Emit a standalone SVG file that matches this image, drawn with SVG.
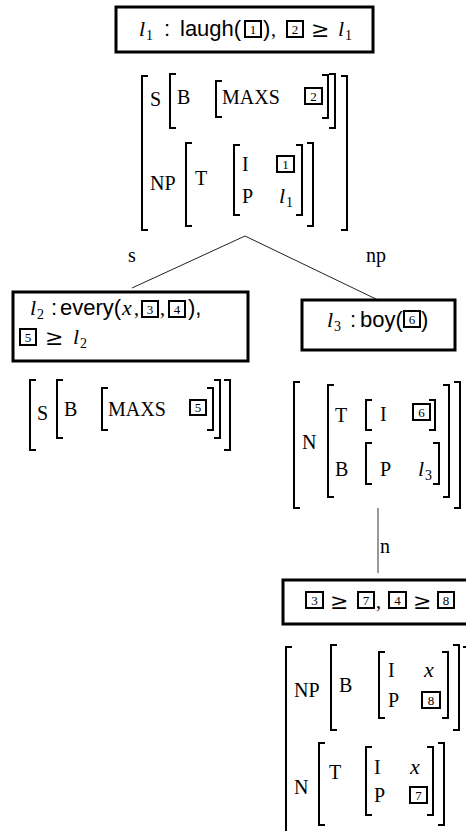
<svg xmlns="http://www.w3.org/2000/svg" width="466" height="831" viewBox="0 0 466 831">
<style>
.bg{fill:#fff}
.box{fill:#fff;stroke:#000;stroke-width:3}
.nb{fill:none;stroke:#000;stroke-width:2}
.br{fill:none;stroke:#000;stroke-width:2}
.sans{font-family:"Liberation Sans",Arial,sans-serif;font-size:22px;fill:#000}
.rm{font-family:"Liberation Serif","Times New Roman",serif;font-size:20px;fill:#000}
.it{font-family:"Liberation Serif","Times New Roman",serif;font-style:italic;font-size:22px;fill:#000}
.sub{font-family:"Liberation Serif","Times New Roman",serif;font-size:14px;fill:#000}
.num{font-family:"Liberation Serif","Times New Roman",serif;font-size:13px;text-anchor:middle;fill:#000}
.ge{font-family:"DejaVu Serif","Liberation Serif",serif;font-size:22px;fill:#000}
.edge{stroke:#222;stroke-width:1;fill:none}
.edge2{stroke:#777;stroke-width:1.5;fill:none}
</style>
<rect class="bg" x="0" y="0" width="466" height="831"/>

<g id="connectors">
  <line class="edge" x1="245" y1="236" x2="132" y2="288"/>
  <line class="edge" x1="245" y1="236" x2="378" y2="300"/>
  <line class="edge2" x1="378" y1="508" x2="378" y2="573"/>
  <text class="rm" x="128" y="262">s</text>
  <text class="rm" x="366" y="262">np</text>
  <text class="rm" x="380" y="553">n</text>
</g>

<g id="node-top">
  <rect class="box" x="116" y="7" width="257" height="45"/>
  <text class="it" x="139" y="36">l</text><text class="sub" x="146" y="40">1</text>
  <text class="sans" x="164" y="36">:</text>
  <text class="sans" x="180" y="36">laugh(</text>
  <rect class="nb" x="245" y="21" width="16" height="16"/><text class="num" x="253" y="34">1</text>
  <text class="sans" x="263" y="36">)</text>
  <text class="rm" x="271" y="36">,</text>
  <rect class="nb" x="287" y="21" width="16" height="16"/><text class="num" x="295" y="34">2</text>
  <text class="ge" x="311" y="37">≥</text>
  <text class="it" x="338" y="36">l</text><text class="sub" x="345" y="40">1</text>
  <!-- AVM -->
  <path class="br" d="M148 76H142V230H148"/>
  <path class="br" d="M341 76H347V230H341"/>
  <text class="rm" x="150" y="106">S</text>
  <path class="br" d="M176 74H170V128H176"/>
  <text class="rm" x="177" y="104">B</text>
  <path class="br" d="M222 81H216V117H222"/>
  <text class="rm" x="222" y="104">MAXS</text>
  <rect class="nb" x="305" y="88" width="17" height="16"/><text class="num" x="313.5" y="101">2</text>
  <path class="br" d="M322 75H328V118H322"/>
  <path class="br" d="M329 74H335V128H329"/>
  <text class="rm" x="150" y="190">NP</text>
  <path class="br" d="M192 143H186V226H192"/>
  <text class="rm" x="195" y="185">T</text>
  <path class="br" d="M240 145H234V215H240"/>
  <text class="rm" x="242" y="171">I</text>
  <text class="rm" x="242" y="203">P</text>
  <rect class="nb" x="277" y="156" width="17" height="16"/><text class="num" x="285.5" y="169">1</text>
  <text class="it" x="279" y="203">l</text><text class="sub" x="286" y="207">1</text>
  <path class="br" d="M296 145H302V215H296"/>
  <path class="br" d="M307 143H313V226H307"/>
</g>

<g id="node-every">
  <rect class="box" x="13" y="292" width="235" height="69"/>
  <text class="it" x="30" y="315">l</text><text class="sub" x="37" y="319">2</text>
  <text class="sans" x="51" y="315">:</text>
  <text class="sans" x="60" y="315">every(</text>
  <text class="it" x="122" y="315">x</text>
  <text class="rm" x="134" y="315">,</text>
  <rect class="nb" x="142" y="301" width="16" height="16"/><text class="num" x="150" y="314">3</text>
  <text class="rm" x="160" y="315">,</text>
  <rect class="nb" x="169" y="301" width="16" height="16"/><text class="num" x="177" y="314">4</text>
  <text class="sans" x="188" y="315">),</text>
  <rect class="nb" x="20" y="329" width="16" height="16"/><text class="num" x="28" y="342">5</text>
  <text class="ge" x="45" y="345">≥</text>
  <text class="it" x="73" y="344">l</text><text class="sub" x="80" y="348">2</text>
  <!-- AVM -->
  <path class="br" d="M36 380H30V450H36"/>
  <text class="rm" x="37" y="420">S</text>
  <path class="br" d="M63 380H57V438H63"/>
  <text class="rm" x="64" y="416">B</text>
  <path class="br" d="M108 388H102V430H108"/>
  <text class="rm" x="108" y="416">MAXS</text>
  <rect class="nb" x="190" y="400" width="16" height="15"/><text class="num" x="198" y="412">5</text>
  <path class="br" d="M207 388H213V430H207"/>
  <path class="br" d="M214 380H220V438H214"/>
  <path class="br" d="M224 380H230V450H224"/>
</g>

<g id="node-boy">
  <rect class="box" x="302" y="300" width="153" height="50"/>
  <text class="it" x="327" y="327">l</text><text class="sub" x="334" y="331">3</text>
  <text class="sans" x="350" y="327">:</text>
  <text class="sans" x="360" y="327">boy(</text>
  <rect class="nb" x="404" y="311" width="16" height="16"/><text class="num" x="412" y="324">6</text>
  <text class="sans" x="421" y="327">)</text>
  <!-- AVM -->
  <path class="br" d="M300 382H294V508H300"/>
  <path class="br" d="M454 382H460V508H454"/>
  <text class="rm" x="302" y="449">N</text>
  <path class="br" d="M334 385H328V497H334"/>
  <path class="br" d="M443 385H449V497H443"/>
  <text class="rm" x="335" y="422">T</text>
  <text class="rm" x="335" y="476">B</text>
  <path class="br" d="M372 400H366V430H372"/>
  <text class="rm" x="380" y="421">I</text>
  <rect class="nb" x="413" y="404" width="17" height="16"/><text class="num" x="421.5" y="417">6</text>
  <path class="br" d="M429 400H435V430H429"/>
  <path class="br" d="M372 443H366V484H372"/>
  <text class="rm" x="380" y="476">P</text>
  <text class="it" x="418" y="476">l</text><text class="sub" x="425" y="480">3</text>
  <path class="br" d="M433 443H439V484H433"/>
</g>

<g id="node-bottom">
  <rect class="box" x="283" y="580" width="200" height="44"/>
  <rect class="nb" x="306" y="592" width="17" height="16"/><text class="num" x="314.5" y="605">3</text>
  <text class="ge" x="330" y="609">≥</text>
  <rect class="nb" x="358" y="592" width="16" height="16"/><text class="num" x="366" y="605">7</text>
  <text class="rm" x="376" y="608">,</text>
  <rect class="nb" x="389" y="592" width="17" height="16"/><text class="num" x="397.5" y="605">4</text>
  <text class="ge" x="413" y="609">≥</text>
  <rect class="nb" x="438" y="592" width="16" height="16"/><text class="num" x="446" y="605">8</text>
  <!-- AVM -->
  <path class="br" d="M292 647H286V840"/>
  <path class="br" d="M463 647H469V840"/>
  <text class="rm" x="294" y="697">NP</text>
  <path class="br" d="M337 645H331V730H337"/>
  <text class="rm" x="339" y="692">B</text>
  <path class="br" d="M385 652H379V718H385"/>
  <text class="rm" x="388" y="677">I</text>
  <text class="it" x="424" y="677">x</text>
  <text class="rm" x="388" y="707">P</text>
  <rect class="nb" x="422" y="692" width="18" height="16"/><text class="num" x="431" y="705">8</text>
  <path class="br" d="M442 652H448V718H442"/>
  <path class="br" d="M453 645H459V730H453"/>
  <text class="rm" x="294" y="794">N</text>
  <path class="br" d="M325 743H319V825H325"/>
  <text class="rm" x="329" y="779">T</text>
  <path class="br" d="M372 747H366V815H372"/>
  <text class="rm" x="374" y="774">I</text>
  <text class="it" x="410" y="774">x</text>
  <text class="rm" x="374" y="802">P</text>
  <rect class="nb" x="410" y="787" width="17" height="16"/><text class="num" x="418.5" y="800">7</text>
  <path class="br" d="M427 747H433V815H427"/>
  <path class="br" d="M438 743H444V825H438"/>
</g>
</svg>
